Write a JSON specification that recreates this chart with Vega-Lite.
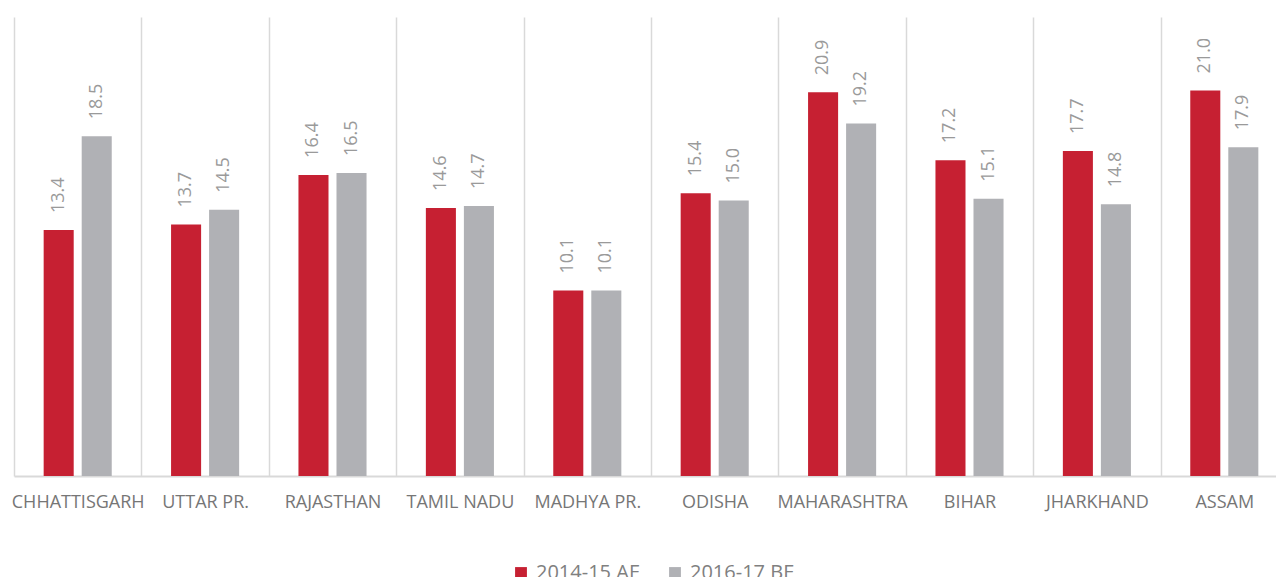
{
  "$schema": "https://vega.github.io/schema/vega-lite/v6.json",
  "autosize": "none",
  "width": 1262,
  "height": 459,
  "padding": {"left": 14, "top": 17, "right": 0, "bottom": 101},
  "background": "white",
  "config": {"view": {"stroke": null}, "font": "Open Sans"},
  "data": {"values": [
    {"state": "CHHATTISGARH", "series": "2014-15 AE", "value": 13.4},
    {"state": "CHHATTISGARH", "series": "2016-17 BE", "value": 18.5},
    {"state": "UTTAR PR.", "series": "2014-15 AE", "value": 13.7},
    {"state": "UTTAR PR.", "series": "2016-17 BE", "value": 14.5},
    {"state": "RAJASTHAN", "series": "2014-15 AE", "value": 16.4},
    {"state": "RAJASTHAN", "series": "2016-17 BE", "value": 16.5},
    {"state": "TAMIL NADU", "series": "2014-15 AE", "value": 14.6},
    {"state": "TAMIL NADU", "series": "2016-17 BE", "value": 14.7},
    {"state": "MADHYA PR.", "series": "2014-15 AE", "value": 10.1},
    {"state": "MADHYA PR.", "series": "2016-17 BE", "value": 10.1},
    {"state": "ODISHA", "series": "2014-15 AE", "value": 15.4},
    {"state": "ODISHA", "series": "2016-17 BE", "value": 15.0},
    {"state": "MAHARASHTRA", "series": "2014-15 AE", "value": 20.9},
    {"state": "MAHARASHTRA", "series": "2016-17 BE", "value": 19.2},
    {"state": "BIHAR", "series": "2014-15 AE", "value": 17.2},
    {"state": "BIHAR", "series": "2016-17 BE", "value": 15.1},
    {"state": "JHARKHAND", "series": "2014-15 AE", "value": 17.7},
    {"state": "JHARKHAND", "series": "2016-17 BE", "value": 14.8},
    {"state": "ASSAM", "series": "2014-15 AE", "value": 21.0},
    {"state": "ASSAM", "series": "2016-17 BE", "value": 17.9}
  ]},
  "encoding": {
    "x": {
      "field": "state", "type": "nominal", "sort": null,
      "scale": {"range": [0, 1274], "paddingInner": 0, "paddingOuter": 0},
      "axis": {
        "title": null, "labelAngle": 0, "labelFontSize": 18, "labelColor": "#767676",
        "labelFont": "Open Sans", "labelPadding": 17, "ticks": false,
        "domainColor": "#d9d9d9", "domainWidth": 2,
        "grid": true, "gridColor": "#d9d9d9", "gridWidth": 1.5, "tickBand": "extent"
      }
    },
    "xOffset": {
      "field": "series", "type": "nominal",
      "scale": {"paddingInner": 0.21, "paddingOuter": 0.78}
    },
    "y": {
      "field": "value", "type": "quantitative",
      "scale": {"domain": [0, 25], "nice": false},
      "axis": null
    }
  },
  "layer": [
    {
      "mark": {"type": "bar"},
      "encoding": {
        "color": {
          "field": "series", "type": "nominal",
          "scale": {"domain": ["2014-15 AE", "2016-17 BE"], "range": ["#c62032", "#b0b1b5"]},
          "legend": {
            "title": null, "orient": "none", "legendX": 497, "legendY": 546,
            "direction": "horizontal",
            "symbolType": "square", "symbolSize": 140, "symbolStrokeWidth": 0,
            "labelFontSize": 20, "labelColor": "#808080", "labelFont": "Open Sans",
            "labelOffset": 5, "columnPadding": 24
          }
        }
      }
    },
    {
      "mark": {"type": "text", "angle": 270, "align": "left", "baseline": "middle", "dx": 17,
               "fontSize": 18, "color": "#9a9a9a", "font": "Open Sans"},
      "encoding": {
        "text": {"field": "value", "type": "quantitative", "format": ".1f"}
      }
    }
  ]
}
